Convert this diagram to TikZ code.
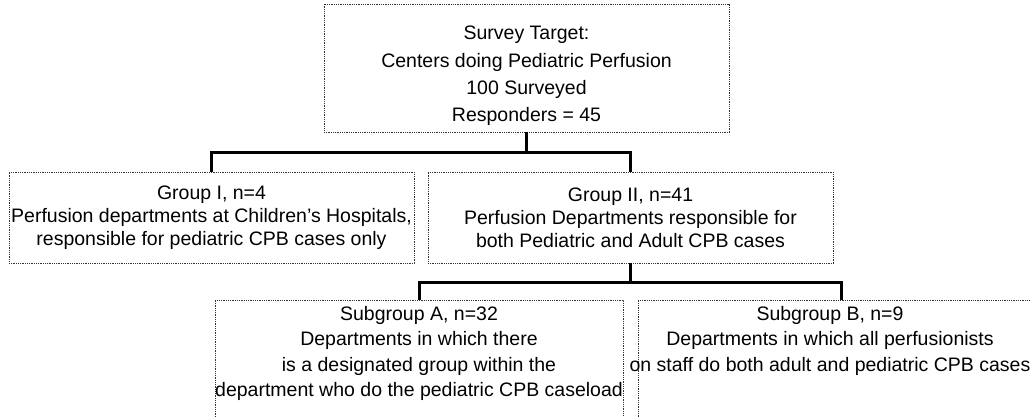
\documentclass[tikz,border=0pt]{standalone}
\usepackage{fontspec}
\setmainfont{Liberation Sans}

\begin{document}
\begin{tikzpicture}[x=1pt,y=1pt,
    box/.style={draw=black!80, densely dotted, line width=0.8pt, minimum width=405pt, inner sep=0pt},
    txt/.style={align=center, inner sep=0pt, font=\fontsize{19.5}{25.5}\selectfont},
    link/.style={line width=3pt}]
\clip (0,0) rectangle (1030,-417);

% survey box
\node[box, minimum height=128pt] (target) at (526.5,-68) {};
\node[txt, font=\fontsize{19.5}{27.3}\selectfont] (targettxt) at (526.5,-76)
    {Survey Target:\\Centers doing Pediatric Perfusion\\100 Surveyed\\Responders = 45};

% groups
\node[box, txt, font=\fontsize{19.5}{23}\selectfont, minimum height=91pt] (grpI) at (211.5,-217.5)
    {Group I, n=4\\Perfusion departments at Children's Hospitals,\\responsible for pediatric CPB cases only};
\node[box, txt, font=\fontsize{19.5}{23}\selectfont, minimum height=91pt] (grpII) at (630.5,-217.5)
    {Group II, n=41\\Perfusion Departments responsible for\\both Pediatric and Adult CPB cases};

% subgroups (cut off at the bottom)
\node[box, minimum width=408pt, minimum height=150pt, anchor=north] (subA) at (419,-300) {};
\node[txt, anchor=north] (subAtxt) at (419,-306)
    {Subgroup A, n=32\\Departments in which there\\is a designated group within the\\department who do the pediatric CPB caseload};
\node[box, minimum width=407pt, minimum height=150pt, anchor=north] (subB) at (841.5,-300) {};
\node[txt, anchor=north] (subBtxt) at (830,-306)
    {Subgroup B, n=9\\Departments in which all perfusionists\\on staff do both adult and pediatric CPB cases};

% connectors
\draw[link] (target.south) -- ++(0,-20) coordinate (split1);
\draw[link] (grpI.north) |- (split1) -| (grpII.north);
\draw[link] (grpII.south) -- ++(0,-19) coordinate (split2);
\draw[link] (subA.north) |- (split2) -| (subB.north);
\end{tikzpicture}
\end{document}
